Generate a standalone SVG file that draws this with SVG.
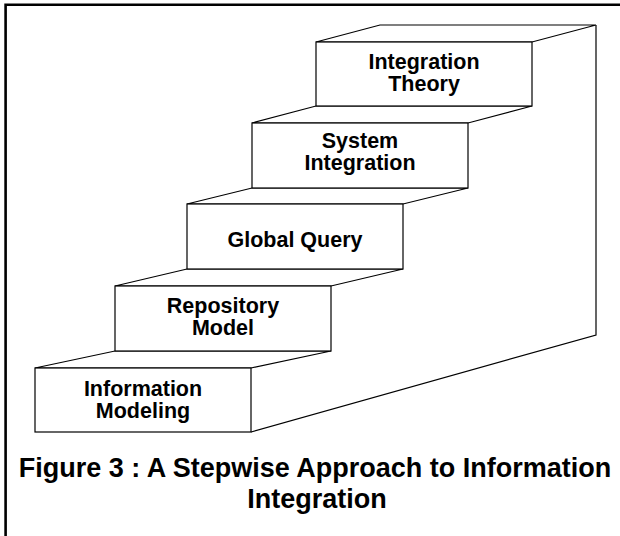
<svg xmlns="http://www.w3.org/2000/svg" width="620" height="536" viewBox="0 0 620 536">
  <style>
    .frame { stroke: #000; stroke-width: 2.6; fill: none; }
    .face { fill: #fff; stroke: #000; stroke-width: 1.2; stroke-linejoin: miter; }
    .edge { fill: none; stroke: #000; stroke-width: 1.2; }
    .label { font-family: "Liberation Sans", Arial, sans-serif; font-weight: bold; font-size: 21.5px; fill: #000; text-anchor: middle; }
    .caption { font-family: "Liberation Sans", Arial, sans-serif; font-weight: bold; font-size: 27px; fill: #000; text-anchor: middle; }
  </style>
  <rect width="620" height="536" fill="#fff"/>

  <!-- page frame: top and left rules -->
  <path class="frame" d="M4.3,4.7 H620 M5.6,3.4 V536"/>

  <!-- right-hand side face of the staircase -->
  <path class="edge" d="M596,25 V335 L251,432"/>

  <g id="step-information-modeling">
    <polygon class="face" points="35,368 115,351 331,351 251,368"/>
    <rect class="face" x="35" y="368" width="216" height="64"/>
    <text class="label" x="143" y="396">Information</text>
    <text class="label" x="143" y="418">Modeling</text>
  </g>

  <g id="step-repository-model">
    <polygon class="face" points="115,286 187,269 403,269 331,286"/>
    <rect class="face" x="115" y="286" width="216" height="65"/>
    <text class="label" x="223" y="313">Repository</text>
    <text class="label" x="223" y="335">Model</text>
  </g>

  <g id="step-global-query">
    <polygon class="face" points="187,204 252,188 468,188 403,204"/>
    <rect class="face" x="187" y="204" width="216" height="65"/>
    <text class="label" x="295" y="247">Global Query</text>
  </g>

  <g id="step-system-integration">
    <polygon class="face" points="252,123 316,106 532,106 468,123"/>
    <rect class="face" x="252" y="123" width="216" height="65"/>
    <text class="label" x="360" y="148">System</text>
    <text class="label" x="360" y="170">Integration</text>
  </g>

  <g id="step-integration-theory">
    <polygon class="face" points="316,42 380,25 596,25 532,42"/>
    <rect class="face" x="316" y="42" width="216" height="64"/>
    <text class="label" x="424" y="69">Integration</text>
    <text class="label" x="424" y="91">Theory</text>
  </g>

  <g id="connectors"></g>

  <g id="caption">
    <text class="caption" x="315" y="477">Figure 3 : A Stepwise Approach to Information</text>
    <text class="caption" x="317" y="508">Integration</text>
  </g>
</svg>
